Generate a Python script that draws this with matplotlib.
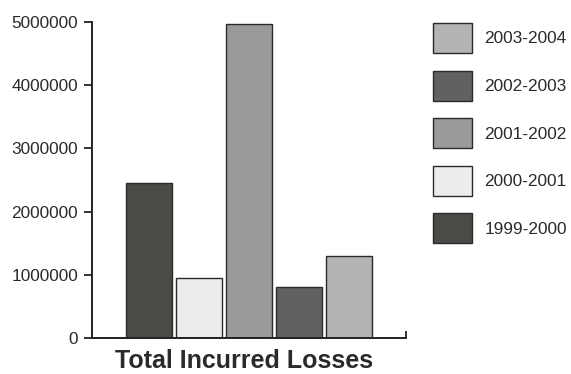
import matplotlib
matplotlib.use("Agg")
import matplotlib.pyplot as plt

# Total incurred losses by policy year
years = ["1999-2000", "2000-2001", "2001-2002", "2002-2003", "2003-2004"]
losses = [2450000, 950000, 4970000, 800000, 1300000]
colors = ["#4b4a47", "#ececea", "#9b9a98", "#62615f", "#b5b4b2"]
y_ticks = [0, 1000000, 2000000, 3000000, 4000000, 5000000]
y_tick_labels = ["0", "1000000", "2000000", "3000000", "4000000", "5000000"]
x_title = "Total Incurred Losses"

plt.rcParams["font.family"] = ["Liberation Sans", "DejaVu Sans"]

fig = plt.figure(figsize=(5.71, 3.74), dpi=100)
ax = fig.add_axes([92 / 571, 1 - 338 / 374, 314 / 571, 316 / 374])

handles = []
for i, (yr, val, c) in enumerate(zip(years, losses, colors)):
    b = ax.bar(i, val, width=0.91, color=c, edgecolor="#2a2a28", linewidth=1.0,
               label=yr, zorder=2)
    handles.append(b)

ax.set_xlim(-1.14, 5.14)
ax.set_ylim(0, 5000000)
ax.set_yticks(y_ticks)
ax.set_yticklabels(y_tick_labels, fontsize=12.4, color="#2a2a2a")
ax.set_xticks([5.14])
ax.set_xticklabels([""])
ax.tick_params(axis="y", direction="out", length=6, width=1.3, color="#222222", pad=4)
ax.tick_params(axis="x", direction="in", length=5, width=1.3, color="#222222")

for s in ["top", "right"]:
    ax.spines[s].set_visible(False)
for s in ["left", "bottom"]:
    ax.spines[s].set_linewidth(1.4)
    ax.spines[s].set_color("#222222")

# category title under the axis
fig.text(244 / 571, 1 / 374, x_title, fontsize=18, fontweight="bold",
         color="#2a2a2a", ha="center", va="bottom")

leg = fig.legend(handles[::-1], years[::-1], loc="upper left",
                 bbox_to_anchor=(433 / 571, 1 - 23 / 374), frameon=False,
                 fontsize=12.4, handlelength=2.27, handleheight=2.33,
                 handletextpad=0.7, labelspacing=1.0, borderpad=0,
                 borderaxespad=0)
for t in leg.get_texts():
    t.set_color("#2a2a2a")

fig.savefig("out.png", dpi=100, facecolor="white")
